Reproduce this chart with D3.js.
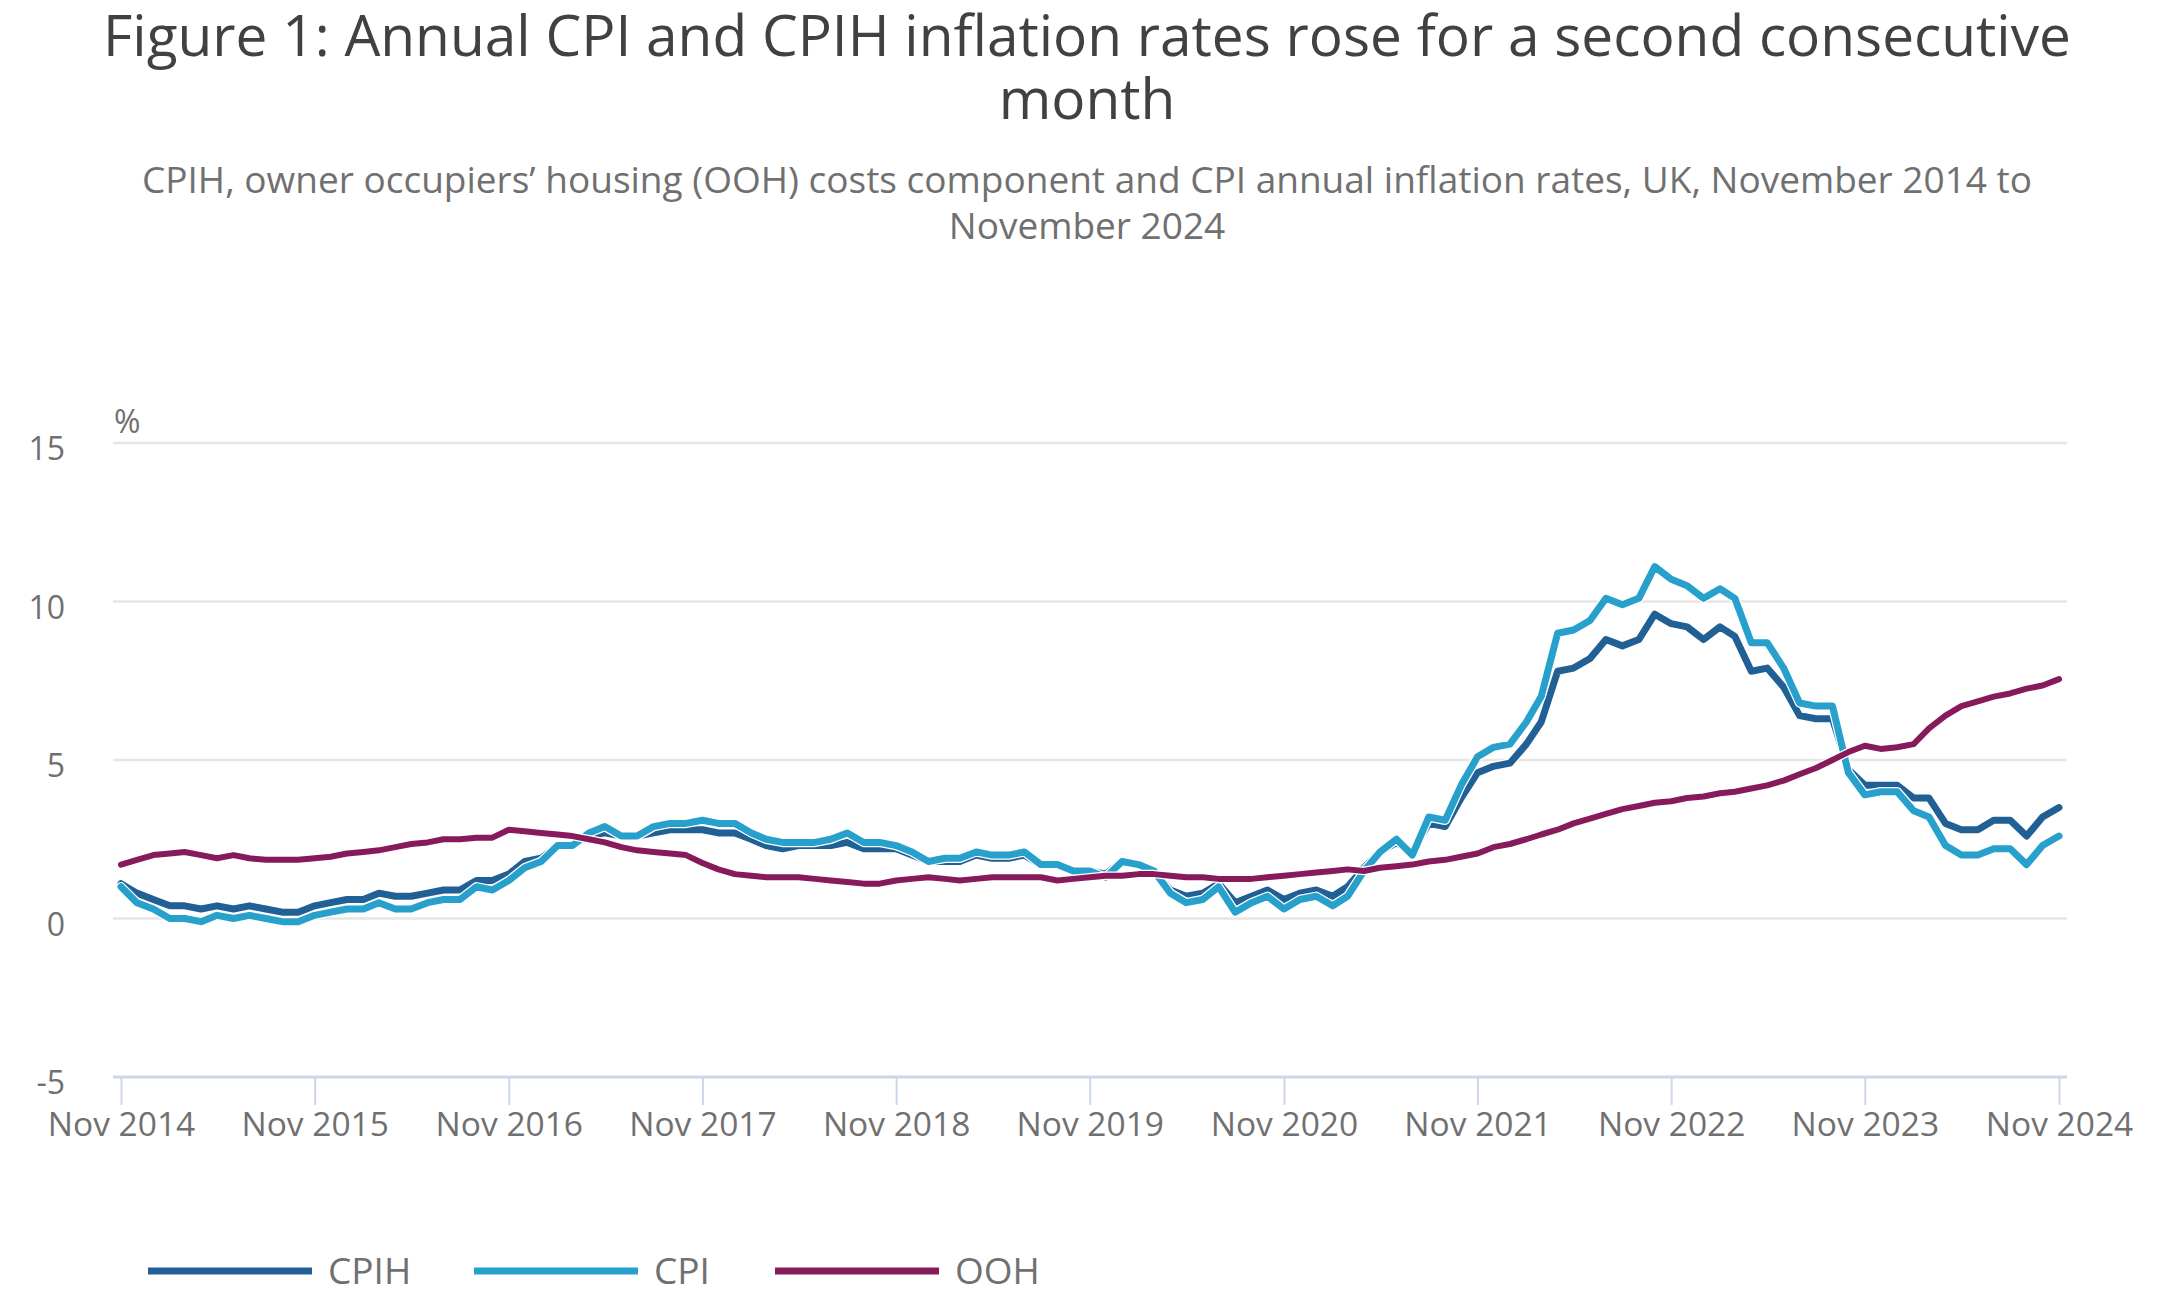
<!DOCTYPE html>
<html>
<head>
<meta charset="utf-8">
<script src="https://cdn.jsdelivr.net/npm/d3@7"></script>
<style>
  html, body { margin: 0; padding: 0; background: #ffffff; }
  svg { display: block; font-family: "Open Sans", "Noto Sans", sans-serif; }
</style>
</head>
<body>
<svg id="chart" width="2162" height="1310"></svg>
<script>
// ---------------- DATA ----------------
const startMonth = "2014-11";   // first observation
const tickLabels = ["Nov 2014","Nov 2015","Nov 2016","Nov 2017","Nov 2018","Nov 2019","Nov 2020","Nov 2021","Nov 2022","Nov 2023","Nov 2024"];
const yTicks = [-5, 0, 5, 10, 15];

const seriesNames = ["CPIH", "CPI", "OOH"];
const seriesColors = ["#206095", "#27a0cc", "#871a5b"];

const cpih = [
  1.1, 0.8,
  0.6, 0.4, 0.4, 0.3, 0.4, 0.3, 0.4, 0.3, 0.2, 0.2, 0.4, 0.5,
  0.6, 0.6, 0.8, 0.7, 0.7, 0.8, 0.9, 0.9, 1.2, 1.2, 1.4, 1.8,
  1.9, 2.3, 2.3, 2.6, 2.7, 2.6, 2.6, 2.7, 2.8, 2.8, 2.8, 2.7,
  2.7, 2.5, 2.3, 2.2, 2.3, 2.3, 2.3, 2.4, 2.2, 2.2, 2.2, 2.0,
  1.8, 1.8, 1.8, 2.0, 1.9, 1.9, 2.0, 1.7, 1.7, 1.5, 1.5, 1.4,
  1.8, 1.7, 1.5, 0.9, 0.7, 0.8, 1.1, 0.5, 0.7, 0.9, 0.6, 0.8,
  0.9, 0.7, 1.0, 1.6, 2.1, 2.4, 2.1, 3.0, 2.9, 3.8, 4.6, 4.8,
  4.9, 5.5, 6.2, 7.8, 7.9, 8.2, 8.8, 8.6, 8.8, 9.6, 9.3, 9.2,
  8.8, 9.2, 8.9, 7.8, 7.9, 7.3, 6.4, 6.3, 6.3, 4.7, 4.2, 4.2,
  4.2, 3.8, 3.8, 3.0, 2.8, 2.8, 3.1, 3.1, 2.6, 3.2, 3.5
];
const cpi = [
  1.0, 0.5,
  0.3, 0.0, 0.0, -0.1, 0.1, 0.0, 0.1, 0.0, -0.1, -0.1, 0.1, 0.2,
  0.3, 0.3, 0.5, 0.3, 0.3, 0.5, 0.6, 0.6, 1.0, 0.9, 1.2, 1.6,
  1.8, 2.3, 2.3, 2.7, 2.9, 2.6, 2.6, 2.9, 3.0, 3.0, 3.1, 3.0,
  3.0, 2.7, 2.5, 2.4, 2.4, 2.4, 2.5, 2.7, 2.4, 2.4, 2.3, 2.1,
  1.8, 1.9, 1.9, 2.1, 2.0, 2.0, 2.1, 1.7, 1.7, 1.5, 1.5, 1.3,
  1.8, 1.7, 1.5, 0.8, 0.5, 0.6, 1.0, 0.2, 0.5, 0.7, 0.3, 0.6,
  0.7, 0.4, 0.7, 1.5, 2.1, 2.5, 2.0, 3.2, 3.1, 4.2, 5.1, 5.4,
  5.5, 6.2, 7.0, 9.0, 9.1, 9.4, 10.1, 9.9, 10.1, 11.1, 10.7, 10.5,
  10.1, 10.4, 10.1, 8.7, 8.7, 7.9, 6.8, 6.7, 6.7, 4.6, 3.9, 4.0,
  4.0, 3.4, 3.2, 2.3, 2.0, 2.0, 2.2, 2.2, 1.7, 2.3, 2.6
];
const ooh = [
  1.7, 1.85,
  2.0, 2.05, 2.1, 2.0, 1.9, 2.0, 1.9, 1.85, 1.85, 1.85, 1.9, 1.95,
  2.05, 2.1, 2.15, 2.25, 2.35, 2.4, 2.5, 2.5, 2.55, 2.55, 2.8, 2.75,
  2.7, 2.65, 2.6, 2.5, 2.4, 2.25, 2.15, 2.1, 2.05, 2.0, 1.75, 1.55,
  1.4, 1.35, 1.3, 1.3, 1.3, 1.25, 1.2, 1.15, 1.1, 1.1, 1.2, 1.25,
  1.3, 1.25, 1.2, 1.25, 1.3, 1.3, 1.3, 1.3, 1.2, 1.25, 1.3, 1.35,
  1.35, 1.4, 1.4, 1.35, 1.3, 1.3, 1.25, 1.25, 1.25, 1.3, 1.35, 1.4,
  1.45, 1.5, 1.55, 1.5, 1.6, 1.65, 1.7, 1.8, 1.85, 1.95, 2.05, 2.25,
  2.35, 2.5, 2.65, 2.8, 3.0, 3.15, 3.3, 3.45, 3.55, 3.65, 3.7, 3.8,
  3.85, 3.95, 4.0, 4.1, 4.2, 4.35, 4.55, 4.75, 5.0, 5.25, 5.45, 5.35,
  5.4, 5.5, 6.0, 6.4, 6.7, 6.85, 7.0, 7.1, 7.25, 7.35, 7.55, 7.85
];
const seriesValues = [cpih, cpi, ooh];

// ---------------- CHART ----------------
const svg = d3.select("#chart");
const parseMonth = d3.timeParse("%Y-%m");
const t0 = parseMonth(startMonth);
const dates = cpi.map((_, i) => d3.timeMonth.offset(t0, i));
const parseTick = d3.timeParse("%b %Y");
const tickDates = tickLabels.map(parseTick);

const x = d3.scaleTime().domain([tickDates[0], tickDates[tickDates.length - 1]]).range([121, 2059]);
const y = d3.scaleLinear().domain([-5, 15]).range([1077, 443]);
const plotLeft = 113, plotRight = 2067;

// Titles
const titleG = svg.append("g").attr("text-anchor", "middle");
titleG.append("text").attr("x", 1087).attr("y", 56)
  .attr("font-size", 56.8).attr("fill", "#414042")
  .text("Figure 1: Annual CPI and CPIH inflation rates rose for a second consecutive");
titleG.append("text").attr("x", 1087).attr("y", 119)
  .attr("font-size", 56.8).attr("fill", "#414042").text("month");
titleG.append("text").attr("x", 1087).attr("y", 193)
  .attr("font-size", 37).attr("fill", "#707071")
  .text("CPIH, owner occupiers’ housing (OOH) costs component and CPI annual inflation rates, UK, November 2014 to");
titleG.append("text").attr("x", 1087).attr("y", 239)
  .attr("font-size", 37).attr("fill", "#707071").text("November 2024");

// Gridlines (horizontal)
svg.append("g").selectAll("line")
  .data(yTicks.filter(v => v !== -5))
  .join("line")
  .attr("x1", plotLeft).attr("x2", plotRight)
  .attr("y1", d => y(d)).attr("y2", d => y(d))
  .attr("stroke", "#e6e6e6").attr("stroke-width", 2.5);

// Y axis labels
const yAxis = d3.axisLeft(y).tickValues(yTicks).tickSize(0).tickPadding(0).tickFormat(d => String(d));
const yG = svg.append("g").attr("transform", "translate(65,0)").call(yAxis);
yG.select(".domain").remove();
yG.selectAll("text").attr("font-size", 32).attr("fill", "#707071")
  .attr("font-family", "'Open Sans', sans-serif").attr("dy", "0.52em").attr("x", 0);

svg.append("text").attr("x", 114).attr("y", 433)
  .attr("font-size", 32).attr("fill", "#707071").text("%");

// X axis
const xAxis = d3.axisBottom(x).tickValues(tickDates).tickFormat(d3.timeFormat("%b %Y"))
  .tickSize(28).tickPadding(4);
const xG = svg.append("g").attr("transform", `translate(0,${y(-5)})`).call(xAxis);
xG.select(".domain").attr("d", `M${plotLeft},0H${plotRight}`).attr("stroke", "#ccd6eb").attr("stroke-width", 3);
xG.selectAll(".tick line").attr("stroke", "#ccd6eb").attr("stroke-width", 2);
xG.selectAll(".tick text").attr("font-size", 33.5).attr("fill", "#707071")
  .attr("font-family", "'Open Sans', sans-serif").attr("dy", "0.8em");

// Lines
const line = d3.line().x((d, i) => x(dates[i])).y(d => y(d)).curve(d3.curveLinear);
const lineWidths = [7, 7, 6];
const linesG = svg.append("g");
seriesValues.forEach((vals, k) => {
  linesG.append("path").attr("d", line(vals)).attr("fill", "none")
    .attr("stroke", "#ffffff").attr("stroke-width", lineWidths[k] + 2.5)
    .attr("stroke-linejoin", "round").attr("stroke-linecap", "round");
  linesG.append("path").attr("d", line(vals)).attr("fill", "none")
    .attr("stroke", seriesColors[k]).attr("stroke-width", lineWidths[k])
    .attr("stroke-linejoin", "round").attr("stroke-linecap", "round");
});

// Legend
const legendX = [148, 474, 775];
const legend = svg.append("g");
seriesNames.forEach((name, k) => {
  legend.append("line").attr("x1", legendX[k]).attr("x2", legendX[k] + 164)
    .attr("y1", 1271).attr("y2", 1271)
    .attr("stroke", seriesColors[k]).attr("stroke-width", 7);
  legend.append("text").attr("x", legendX[k] + 180).attr("y", 1284)
    .attr("font-size", 37).attr("fill", "#707071").text(name);
});
</script>
</body>
</html>
